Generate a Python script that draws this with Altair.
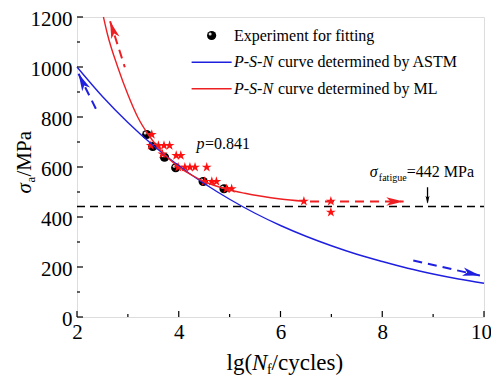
import altair as alt
import pandas as pd

FONT = "Liberation Serif"
RED = "#ee1f23"
STAR_RED = "#ff1010"
BLUE = "#1f1fe0"

# ---- axis ticks ----
x_ticks = [2, 4, 6, 8, 10]
x_minor = [3, 5, 7, 9]
y_ticks = [0, 200, 400, 600, 800, 1000, 1200]
y_minor = [100, 300, 500, 700, 900, 1100]

# ---- experiment for fitting (black spheres) ----
exp_x = [3.37, 3.49, 3.72, 3.94, 4.48, 4.89]
exp_y = [730, 682, 639, 597, 542, 513]

# ---- red stars ----
star_x = [3.47, 3.45, 3.60, 3.71, 3.82, 3.68, 3.95, 4.04, 3.99, 4.12, 4.22, 4.32,
          4.55, 4.51, 4.65, 4.74, 4.94, 5.04, 6.46, 6.99, 6.99]
star_y = [730, 686, 686, 686, 686, 652, 646, 646, 599, 599, 599, 599,
          599, 542, 542, 542, 513, 513, 463, 463, 419]

# ---- P-S-N curve determined by ASTM ----
astm_x = [2, 2.5, 3, 3.5, 4, 4.5, 5, 5.5, 6, 6.5, 7, 7.5, 8, 8.5, 9, 9.5, 10]
astm_y = [1000, 882, 778, 686, 605, 534, 471, 415, 366, 323, 285, 251, 222, 195, 172, 152, 135]

# ---- P-S-N curve determined by ML ----
ml_x = [2.52, 2.6, 2.8, 3.0, 3.2, 3.4, 3.6, 3.8, 4.0, 4.25, 4.5, 4.75, 5.0, 5.3, 5.6, 6.0, 6.46]
ml_y = [1200, 1130, 1000, 890, 797, 730, 677, 634, 600, 568, 542, 523, 508, 495, 484, 472, 463]

# ---- fatigue limit ----
fatigue_limit = 442

# ---- dashed arrows ----
red_arrow_grp = ["a", "a", "b", "b"]
red_arrow_x = [2.94, 2.65, 6.58, 8.42]
red_arrow_y = [999, 1183, 462, 462]
red_tip_x = [2.65, 8.42]
red_tip_y = [1183, 462]
red_tip_angle = [342, 90]

blue_arrow_grp = ["c", "c", "d", "d"]
blue_arrow_x = [2.42, 2.03, 8.61, 9.92]
blue_arrow_y = [813, 973, 226, 166]
blue_tip_x = [2.03, 9.92]
blue_tip_y = [973, 166]
blue_tip_angle = [334, 103]

# ---- legend ----
legend_marker = [4.646, 1126]
legend_text_x = 5.085
legend_rows_y = [1126, 1019, 913]
legend_line_x = [4.253, 5.04]

ARROW = "M0,0L0.5,2L0,1.5L-0.5,2Z"
STAR = ("M0,-1L0.2245,-0.309L0.951,-0.309L0.363,0.118L0.588,0.809L0,0.382"
        "L-0.588,0.809L-0.363,0.118L-0.951,-0.309L-0.2245,-0.309Z")

xs = alt.Scale(domain=[2, 10], nice=False, zero=False)
ys = alt.Scale(domain=[0, 1200], nice=False, zero=False)

xaxis = alt.Axis(values=x_ticks, ticks=False, domain=False, grid=False, format="d",
                 labelFont=FONT, labelFontSize=21, labelColor="black",
                 labelPadding=4, labelFlush=False, labelOverlap=False,
                 labelOffset={"condition": {"test": "datum.value == 10", "value": -3}, "value": 0})
yaxis = alt.Axis(values=y_ticks, ticks=False, domain=False, grid=False, format="d",
                 labelFont=FONT, labelFontSize=21, labelColor="black",
                 labelPadding=5, labelFlush=False, labelOverlap=False, labelOffset=2)


def ex(f="x"):
    return alt.X(f"{f}:Q", scale=xs, axis=xaxis, title=None)


def ey(f="y"):
    return alt.Y(f"{f}:Q", scale=ys, axis=yaxis, title=None)


def label(x, y, text, size=16, style="normal", dx=0, dy=0, angle=0, align="left",
          baseline="alphabetic"):
    kw = dict(font=FONT, fontSize=size, fontStyle=style, dx=dx, dy=dy, align=align,
              baseline=baseline, color="black")
    if angle:
        kw["angle"] = angle
    return alt.Chart(pd.DataFrame({"x": [x], "y": [y], "t": [text]})).mark_text(**kw).encode(
        x=ex(), y=ey(), text="t:N")


def sphere(xv, yv):
    d = pd.DataFrame({"x": xv, "y": yv})
    base = alt.Chart(d).mark_circle(color="black", opacity=1, size=85).encode(x=ex(), y=ey())
    hl = alt.Chart(d).mark_circle(color="#d8d8d8", opacity=1, size=9,
                                  xOffset=-1.5, yOffset=-1.5).encode(x=ex(), y=ey())
    return [base, hl]


layers = []

# fatigue limit dashed line
layers.append(alt.Chart(pd.DataFrame({"x": [2, 10], "y": [fatigue_limit] * 2})).mark_line(
    color="black", strokeWidth=1.5, strokeDash=[8, 5]).encode(x=ex(), y=ey()))

# inner ticks
xt = pd.DataFrame({"x": x_ticks + x_minor, "y": [0] * 9, "y2": [24] * 5 + [12] * 4})
layers.append(alt.Chart(xt).mark_rule(color="black", strokeWidth=1.2).encode(
    x=ex(), y=ey(), y2="y2:Q"))
yt = pd.DataFrame({"y": y_ticks + y_minor, "x": [2] * 13, "x2": [2.118] * 7 + [2.059] * 6})
layers.append(alt.Chart(yt).mark_rule(color="black", strokeWidth=1.2).encode(
    x=ex(), x2="x2:Q", y=ey()))

# experiment spheres + legend sphere
layers += sphere(exp_x, exp_y)
layers += sphere([legend_marker[0]], [legend_marker[1]])

# stars
layers.append(alt.Chart(pd.DataFrame({"x": star_x, "y": star_y})).mark_point(
    shape=STAR, filled=True, color=STAR_RED, opacity=1, size=110, strokeWidth=0).encode(x=ex(), y=ey()))

# curves
layers.append(alt.Chart(pd.DataFrame({"x": astm_x, "y": astm_y})).mark_line(
    color=BLUE, strokeWidth=1.4, interpolate="monotone").encode(x=ex(), y=ey()))
layers.append(alt.Chart(pd.DataFrame({"x": ml_x, "y": ml_y})).mark_line(
    color=RED, strokeWidth=1.4, interpolate="monotone").encode(x=ex(), y=ey()))

# legend lines
layers.append(alt.Chart(pd.DataFrame({"x": legend_line_x, "y": [legend_rows_y[1]] * 2})).mark_line(
    color=BLUE, strokeWidth=1.6).encode(x=ex(), y=ey()))
layers.append(alt.Chart(pd.DataFrame({"x": legend_line_x, "y": [legend_rows_y[2]] * 2})).mark_line(
    color=RED, strokeWidth=1.6).encode(x=ex(), y=ey()))

# dashed arrows
layers.append(alt.Chart(pd.DataFrame({"x": red_arrow_x, "y": red_arrow_y, "g": red_arrow_grp})).mark_line(
    color=RED, strokeWidth=2, strokeDash=[9, 6]).encode(x=ex(), y=ey(), detail="g:N"))
layers.append(alt.Chart(pd.DataFrame({"x": blue_arrow_x, "y": blue_arrow_y, "g": blue_arrow_grp})).mark_line(
    color=BLUE, strokeWidth=2, strokeDash=[9, 6]).encode(x=ex(), y=ey(), detail="g:N"))
layers.append(alt.Chart(pd.DataFrame({"x": [8.89], "y": [519], "y2": [458]})).mark_rule(
    color="black", strokeWidth=1.3).encode(x=ex(), y=ey(), y2="y2:Q"))

# arrow heads
layers.append(alt.Chart(pd.DataFrame({"x": red_tip_x, "y": red_tip_y, "a": red_tip_angle})).mark_point(
    shape=ARROW, filled=True, color=RED, opacity=1, size=300).encode(
    x=ex(), y=ey(), angle=alt.Angle("a:Q", scale=None)))
layers.append(alt.Chart(pd.DataFrame({"x": blue_tip_x, "y": blue_tip_y, "a": blue_tip_angle})).mark_point(
    shape=ARROW, filled=True, color=BLUE, opacity=1, size=300).encode(
    x=ex(), y=ey(), angle=alt.Angle("a:Q", scale=None)))
layers.append(alt.Chart(pd.DataFrame({"x": [8.89], "y": [453], "a": [180]})).mark_point(
    shape=ARROW, filled=True, color="black", opacity=1, size=64).encode(
    x=ex(), y=ey(), angle=alt.Angle("a:Q", scale=None)))

# annotations
layers.append(label(7.756, 559, "σ", 16, "italic"))
layers.append(label(7.756, 559, "fatigue", 10, dx=9, dy=4))
layers.append(label(7.756, 559, "=442 MPa", 16, dx=37))
layers.append(label(4.35, 673, "p", 16, "italic"))
layers.append(label(4.35, 673, "=0.841", 16, dx=8.5))
layers.append(label(legend_text_x, legend_rows_y[0], "Experiment for fitting", 16, baseline="middle"))
layers.append(label(legend_text_x, legend_rows_y[1], "P-S-N", 16, "italic", baseline="middle"))
layers.append(label(legend_text_x, legend_rows_y[1], "curve determined by ASTM", 16, dx=44, baseline="middle"))
layers.append(label(legend_text_x, legend_rows_y[2], "P-S-N", 16, "italic", baseline="middle"))
layers.append(label(legend_text_x, legend_rows_y[2], "curve determined by ML", 16, dx=44, baseline="middle"))

# axis titles
layers.append(label(4.94, -213, "lg(", 23))
layers.append(label(4.94, -213, "N", 23, "italic", dx=25.5))
layers.append(label(4.94, -213, "f", 14, dx=40.5, dy=4))
layers.append(label(4.94, -213, "/cycles)", 23, dx=45))
layers.append(label(1.096, 494, "σ", 21, "italic", angle=270))
layers.append(label(1.096, 494, "a", 13, dx=11, dy=4, angle=270))
layers.append(label(1.096, 494, "/MPa", 21, dx=17, angle=270))

chart = alt.layer(*layers).properties(
    width=407, height=300,
    padding={"left": 69, "top": 9, "right": 7, "bottom": 59},
    autosize=alt.AutoSizeParams(type="none"),
).configure_view(stroke="black", strokeWidth=1.2).configure(background="white")

chart.save("out.html", embed_options={"renderer": "svg", "actions": False})
